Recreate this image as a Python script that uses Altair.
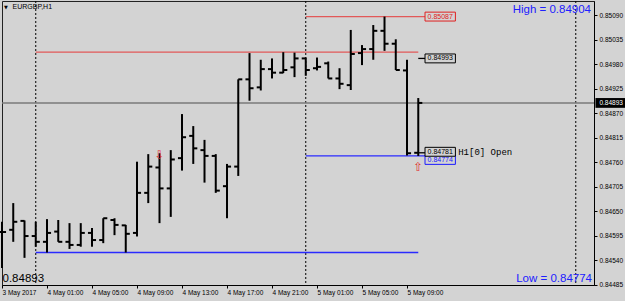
import altair as alt
import pandas as pd

# ---- data (hours relative to 4 May 2017 00:00) ----
hours = list(range(-3, 35))
opens = [0.84603, 0.84608, 0.84628, 0.84594, 0.84581, 0.84604, 0.84581, 0.84574,
         0.84601, 0.84585, 0.84630, 0.84618, 0.84601, 0.84691, 0.84748, 0.84701,
         0.84769, 0.84819, 0.84787, 0.84774, 0.84706, 0.84750, 0.84946, 0.84928,
         0.84969, 0.84961, 0.84973, 0.84993, 0.84971, 0.84982, 0.84948, 0.84933,
         0.85005, 0.85014, 0.85055, 0.85026, 0.84966, 0.84781]
highs = [0.84626, 0.84668, 0.84629, 0.84626, 0.84632, 0.84630, 0.84623, 0.84623,
         0.84612, 0.84634, 0.84634, 0.84619, 0.84761, 0.84778, 0.84780, 0.84787,
         0.84868, 0.84841, 0.84810, 0.84778, 0.84756, 0.84946, 0.85005, 0.84990,
         0.84993, 0.85007, 0.85006, 0.84995, 0.84995, 0.84986, 0.84971, 0.85057,
         0.85023, 0.85068, 0.85087, 0.85036, 0.84990, 0.84904]
lows = [0.84522, 0.84581, 0.84545, 0.84570, 0.84557, 0.84581, 0.84565, 0.84570,
        0.84570, 0.84578, 0.84596, 0.84557, 0.84593, 0.84668, 0.84623, 0.84637,
        0.84741, 0.84756, 0.84714, 0.84691, 0.84634, 0.84729, 0.84898, 0.84921,
        0.84948, 0.84960, 0.84951, 0.84954, 0.84966, 0.84948, 0.84924, 0.84922,
        0.84978, 0.84990, 0.85010, 0.84967, 0.84775, 0.84774]
closes = [0.84603, 0.84626, 0.84594, 0.84581, 0.84601, 0.84581, 0.84574, 0.84601,
          0.84585, 0.84634, 0.84619, 0.84599, 0.84691, 0.84750, 0.84701, 0.84766,
          0.84816, 0.84791, 0.84774, 0.84696, 0.84750, 0.84946, 0.84926, 0.84969,
          0.84961, 0.84967, 0.84993, 0.84967, 0.84974, 0.84948, 0.84936, 0.85003,
          0.85014, 0.85055, 0.85026, 0.84967, 0.84780, 0.84893]

x_tick_hours = [-3, 1, 5, 9, 13, 17, 21, 25, 29, 33]
x_tick_labels = ["3 May 2017", "4 May 01:00", "4 May 05:00", "4 May 09:00", "4 May 13:00",
                 "4 May 17:00", "4 May 21:00", "5 May 01:00", "5 May 05:00", "5 May 09:00"]
y_ticks = [0.85090, 0.85035, 0.84980, 0.84925, 0.84870, 0.84815, 0.84760,
           0.84705, 0.84650, 0.84595, 0.84540, 0.84485]
separators = [0, 24, 48]

level_price = [0.85007, 0.84557, 0.85087, 0.84774, 0.84993, 0.84781]
level_start = [0, 0, 24, 24, 34, 34]
level_end = [34, 34, 34.6, 34.6, 34.6, 34.6]
level_color = ["#e25858", "#2a2aff", "#e25858", "#2a2aff", "#000000", "#000000"]

box_price = [0.85087, 0.84993, 0.84774, 0.84781]
box_text = ["0.85087", "0.84993", "0.84774", "0.84781"]
box_color = ["#e02020", "#000000", "#1a1aff", "#000000"]
box_shift = [0, 0, 4, -1]   # pixel nudges so the stacked labels peek out as in the reference

current_price = 0.84893
day_high = "High = 0.84904"
day_low = "Low = 0.84774"

arrow_h = [34, 11]
arrow_p = [0.84749, 0.84777]
arrow_txt = ["⇧", "⇩"]

BG = "#d3d3d3"
FONT = "Liberation Sans"

# ---- scales and axes ----
XS = alt.Scale(domain=[-3.0, 49.62], nice=False, zero=False)
YS = alt.Scale(domain=[0.84484, 0.85122], nice=False, zero=False)
expr = "".join(f"datum.value == {v} ? '{l}' : " for v, l in zip(x_tick_hours, x_tick_labels)) + "''"
XA = alt.Axis(values=x_tick_hours, labelExpr=expr, title=None, grid=False, orient="bottom",
              labelAlign="left", labelBaseline="top", labelFontSize=6.5, labelFont=FONT,
              labelColor="black", tickColor="black", tickSize=3, labelPadding=1,
              domainColor="black", labelOverlap=False, labelFlush=False, labelBound=False)
YA = alt.Axis(values=y_ticks, format=".5f", title=None, grid=False, orient="right",
              labelAlign="left", labelBaseline="middle", labelFontSize=6.5, labelFont=FONT,
              labelColor="black", tickColor="black", tickSize=3, labelPadding=2,
              domainColor="black", labelOverlap=False, labelFlush=False, labelBound=False)


def X(f):
    return alt.X(f, type="quantitative", scale=XS, axis=XA)


def Y(f):
    return alt.Y(f, type="quantitative", scale=YS, axis=YA)


bars = pd.DataFrame({"h": hours, "o": opens, "hi": highs, "lo": lows, "c": closes})
seps = pd.DataFrame({"h": separators})
levels = pd.DataFrame({"p": level_price, "h0": level_start, "h1": level_end, "col": level_color})
boxes = pd.DataFrame({"p": box_price, "t": box_text, "col": box_color, "order": range(4)})
arrows = pd.DataFrame({"h": arrow_h, "p": arrow_p, "t": arrow_txt})
cur = pd.DataFrame({"p": [current_price], "t": [f"{current_price:.5f}"]})

sep_layer = alt.Chart(seps).mark_rule(color="black", strokeDash=[2, 2], strokeWidth=1).encode(x=X("h"))

cur_line = alt.Chart(cur).mark_rule(color="#7a7a7a", strokeWidth=1.5).encode(y=Y("p"))

level_layer = alt.Chart(levels).mark_rule(strokeWidth=1.3).encode(
    x=X("h0"), x2=alt.X2("h1"), y=Y("p"), color=alt.Color("col:N", scale=None))

bar_v = alt.Chart(bars).mark_rule(color="black", strokeWidth=2).encode(
    x=X("h"), y=Y("lo"), y2=alt.Y2("hi"))
bar_o = alt.Chart(bars).transform_calculate(hl="datum.h - 0.36").mark_rule(
    color="black", strokeWidth=2).encode(x=X("hl"), x2=alt.X2("h"), y=Y("o"))
bar_c = alt.Chart(bars).transform_calculate(hr="datum.h + 0.36").mark_rule(
    color="black", strokeWidth=2).encode(x=X("h"), x2=alt.X2("hr"), y=Y("c"))

box_base = alt.Chart(boxes).transform_calculate(
    y0="datum.p - 0.0001", y1="datum.p + 0.0001", xa="34.6", xb="37.3", xm="35.95")
box_layers = []
for i in range(len(box_price)):
    b = box_base.transform_filter(f"datum.order == {i}")
    s = box_shift[i]
    box_layers.append(b.mark_rect(fill=BG, strokeWidth=1, yOffset=s, y2Offset=s).encode(
        x=X("xa"), x2=alt.X2("xb"), y=Y("y0"), y2=alt.Y2("y1"),
        stroke=alt.Color("col:N", scale=None)))
    box_layers.append(b.mark_text(font=FONT, fontSize=7, align="center", baseline="middle",
                                  dy=s).encode(
        x=X("xm"), y=Y("p"), text="t:N", color=alt.Color("col:N", scale=None)))

open_lbl = alt.Chart(pd.DataFrame({"p": [0.84781], "t": ["H1[0] Open"]})).transform_calculate(
    hx="37.55").mark_text(font="Liberation Mono", fontSize=9, align="left", baseline="middle",
                          color="black", dy=-1).encode(x=X("hx"), y=Y("p"), text="t:N")

arrow_layer = alt.Chart(arrows).mark_text(font="DejaVu Sans", fontSize=12, color="#e03030",
                                          baseline="middle").encode(x=X("h"), y=Y("p"), text="t:N")

cur_box = alt.Chart(cur).transform_calculate(
    y0="datum.p - 0.00011", y1="datum.p + 0.00011", xa="49.75", xb="52.5").mark_rect(
    color="black").encode(x=X("xa"), x2=alt.X2("xb"), y=Y("y0"), y2=alt.Y2("y1"))
cur_txt = alt.Chart(cur).transform_calculate(xm="50.1").mark_text(
    font=FONT, fontSize=6.5, color="white", align="left", baseline="middle").encode(
    x=X("xm"), y=Y("p"), text="t:N")

txt = pd.DataFrame({"a": [0]})
hi_txt = alt.Chart(txt).mark_text(text=day_high, font=FONT, fontSize=11.5, color="#2020ff",
                                  align="right", baseline="middle").encode(
    x=alt.value(589), y=alt.value(9))
lo_txt = alt.Chart(txt).mark_text(text=day_low, font=FONT, fontSize=11.5, color="#2020ff",
                                  align="right", baseline="middle").encode(
    x=alt.value(590), y=alt.value(278))
cp_txt = alt.Chart(txt).mark_text(text=f"{current_price:.5f}", font=FONT, fontSize=11.5,
                                  color="black", align="left", baseline="middle").encode(
    x=alt.value(0.5), y=alt.value(278))
sym_tri = alt.Chart(txt).mark_text(text="▼", font="DejaVu Sans", fontSize=5, color="black",
                                   align="left", baseline="middle").encode(
    x=alt.value(2), y=alt.value(6))
sym_txt = alt.Chart(txt).mark_text(text="EURGBP,H1", font=FONT, fontSize=7, color="black",
                                   align="left", baseline="middle").encode(
    x=alt.value(10.5), y=alt.value(6))

chart = alt.layer(
    sep_layer, cur_line, level_layer, bar_v, bar_o, bar_c, *box_layers, open_lbl,
    arrow_layer, cur_box, cur_txt, hi_txt, lo_txt, cp_txt, sym_tri, sym_txt
).properties(
    width=592, height=284,
    autosize=alt.AutoSizeParams(type="none"),
    padding={"left": 2, "top": 1, "right": 31, "bottom": 16},
    background=BG,
).configure_view(fill=BG, stroke="#222222", strokeWidth=1)

chart.save("out.html", embed_options={"renderer": "svg", "actions": False})
